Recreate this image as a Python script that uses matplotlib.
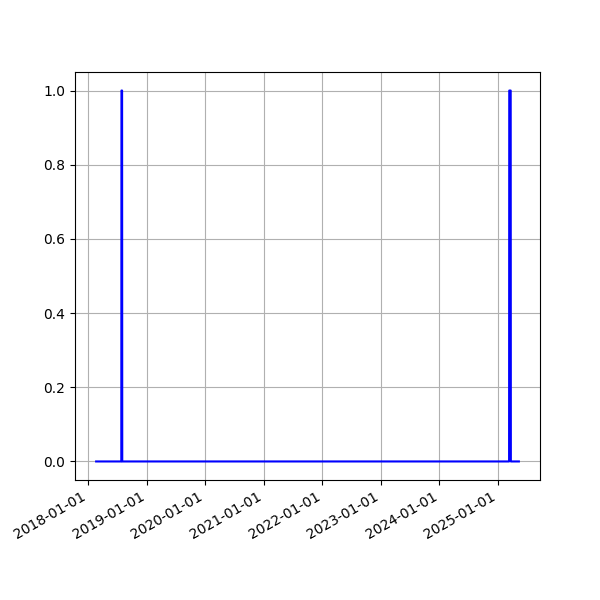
import matplotlib
matplotlib.use("Agg")
import matplotlib.pyplot as plt
import matplotlib.dates as mdates
import pandas as pd

# event flag series (0/1)
dates = ["2018-02-19", "2018-07-26", "2018-07-27", "2018-07-31", "2018-08-01",
         "2025-03-11", "2025-03-12", "2025-03-21", "2025-03-22",
         "2025-05-11"]
values = [0, 0, 1, 1, 0,
          0, 1, 1, 0,
          0]

x = pd.to_datetime(dates)

fig, ax = plt.subplots(figsize=(6, 6), dpi=100)
ax.plot(x, values, color="blue")
ax.grid(True)
ax.xaxis.set_major_locator(mdates.YearLocator())
ax.xaxis.set_major_formatter(mdates.DateFormatter("%Y-%m-%d"))
fig.autofmt_xdate()

fig.savefig("out.png", dpi=100)
